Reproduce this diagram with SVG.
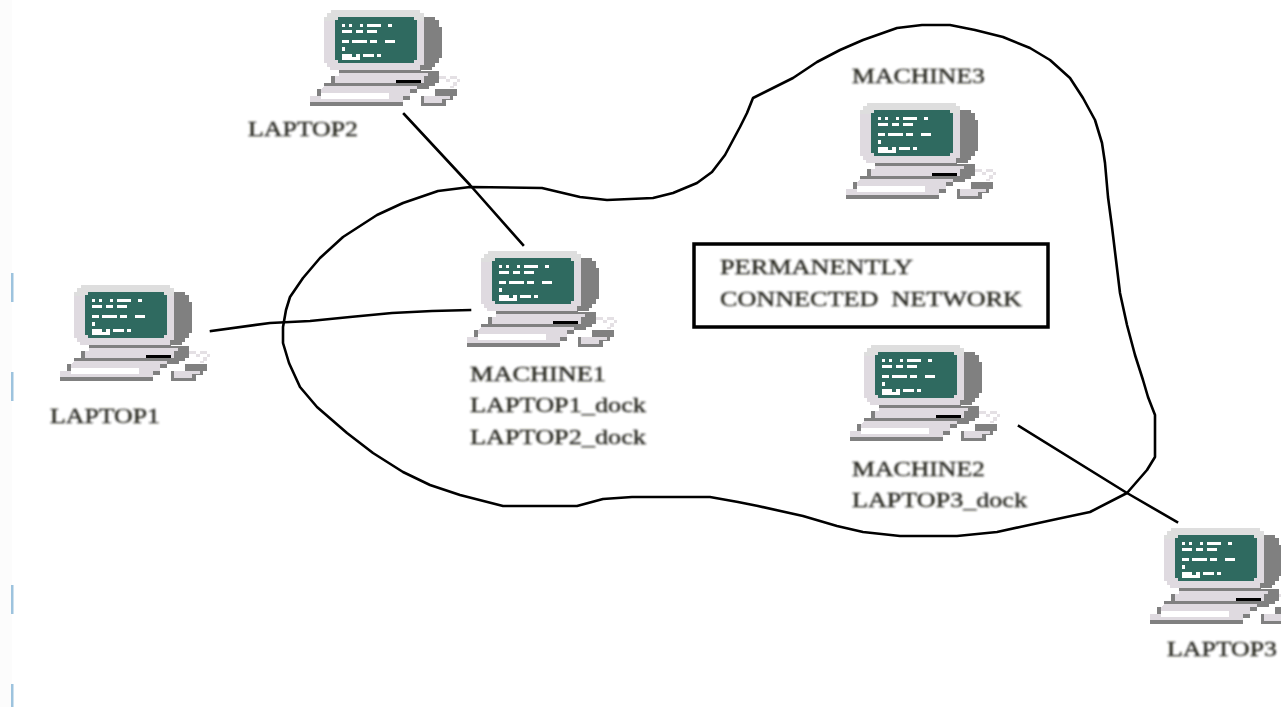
<svg xmlns="http://www.w3.org/2000/svg" width="1281" height="707" viewBox="0 0 1281 707">
<style>
.lb{font-family:"Liberation Serif","Times New Roman",serif;font-size:22px;fill:#25251f;stroke:#25251f;stroke-width:.35;filter:url(#soft);white-space:pre}
.cn{fill:none;stroke:#000;stroke-width:2.6;stroke-linejoin:round;stroke-linecap:square}
.tick{fill:#9dc3de}
</style>
<defs>
<filter id="soft" x="-5%" y="-30%" width="110%" height="160%"><feGaussianBlur stdDeviation="0.85"/></filter>
<g id="pc" shape-rendering="crispEdges">
<path fill="#808080" d="M134 22H145V25H149V32H152V63H149V68H145V72H142V75H130V70Z"/>
<path fill="#dfdae0" d="M41 15H130V18H134V70H130V75H40V72H37V68H34V22H37V18H41Z"/>
<path fill="#dedede" d="M41 15H130V18H134V26H34V22H37V18H41Z"/>
<path fill="#2f6a60" d="M48 22H124V25H127V65H124V68H48V65H45V25H48Z"/>
<g fill="#fff">
<rect x="52" y="29" width="3" height="3"/><rect x="59" y="29" width="3" height="3"/><rect x="70" y="29" width="3" height="3"/><rect x="77" y="29" width="14" height="3"/><rect x="98" y="29" width="4" height="3"/>
<rect x="52" y="35" width="10" height="3"/><rect x="66" y="35" width="7" height="3"/><rect x="77" y="35" width="10" height="3"/>
<rect x="52" y="45" width="7" height="3"/><rect x="62" y="45" width="15" height="3"/><rect x="80" y="45" width="7" height="3"/><rect x="95" y="45" width="10" height="3"/>
<rect x="52" y="52" width="3" height="4"/>
<path d="M52 59H62V62H66V59H70V65H52Z"/><rect x="73" y="59" width="11" height="3"/><rect x="87" y="59" width="4" height="3"/>
</g>
<rect x="49" y="75" width="82" height="3" fill="#808080"/>
<path fill="#808080" d="M130 76H149V88H145V91H139V94H127V88H130Z"/>
<path fill="#dfdae0" d="M49 78H138V81H134V88H45V81H49Z"/>
<rect x="41" y="81" width="4" height="8" fill="#808080"/>
<rect x="106" y="85" width="25" height="3" fill="#000"/>
<path fill="#808080" d="M34 88H134V91H127V98H120V105H113V111H20V101H27V94H34Z"/>
<path fill="#dfdae0" d="M34 91H127V94H120V101H113V107H20V101H31V94Z"/>
<rect x="31" y="98" width="68" height="6" fill="#fff"/>
<path fill="#808080" d="M145 94H167V101H163V105H156V111H131V101H145Z"/>
<path fill="#dfdae0" d="M134 101H160V104H152V108H134Z"/>
<g fill="#e4e0e4"><rect x="149" y="81" width="7" height="3"/><rect x="160" y="81" width="7" height="3"/><rect x="156" y="84" width="4" height="3"/><rect x="167" y="84" width="3" height="3"/><rect x="163" y="87" width="4" height="4"/><rect x="160" y="91" width="4" height="2"/></g>
</g>
</defs>
<rect width="1281" height="707" fill="#fff"/>
<rect width="12" height="707" fill="#fcfcfc"/>
<g id="ticks">
<rect class="tick" x="11" y="273" width="2.5" height="29"/><rect class="tick" x="11" y="372" width="2.5" height="29"/><rect class="tick" x="11" y="585" width="2.5" height="29"/><rect class="tick" x="11" y="684" width="2.5" height="23"/>
</g>
<g id="network">
<path class="cn" d="M753 98L773 88L793 78L817 62L840 50L863 40L897 28L922 25L950 25L975 30L1003 37L1030 48L1050 60L1070 78L1083 98L1095 120L1102 143L1105 163L1108 197L1112 227L1116 260L1120 293L1127 325L1135 355L1143 380L1148 397L1155 415L1155 457L1147 470L1127 493L1090 512L1057 519L1020 527L997 532L957 536L900 536L863 532L837 526L803 516L758 506L738 502L710 497L632 497L603 499L577 506L503 506L460 495L430 485L403 472L373 453L347 433L317 407L300 387L289 363L283 343L283 327L286 310L290 297L303 278L320 258L343 237L377 215L403 203L438 191L470 187L542 188L580 197L607 200L653 198L673 193L697 183L712 172L725 155L740 127L747 113Z"/>
</g>
<g id="connectors">
<path class="cn" d="M211 331L270 323L310 321L350 317L392 313L432 311L470 310"/>
<path class="cn" d="M404 114L470 185L523 245"/>
<path class="cn" d="M1019 426L1127 493L1177 522"/>
</g>
<g id="laptop1"><use href="#pc" x="40" y="270"/><text class="lb" x="50" y="423" textLength="110" lengthAdjust="spacingAndGlyphs">LAPTOP1</text></g>
<g id="laptop2"><use href="#pc" x="290" y="-5"/><text class="lb" x="248" y="136" textLength="110" lengthAdjust="spacingAndGlyphs">LAPTOP2</text></g>
<g id="machine1"><use href="#pc" x="447" y="236"/><text class="lb" x="470" y="381" textLength="136" lengthAdjust="spacingAndGlyphs">MACHINE1</text><text class="lb" x="470" y="412" textLength="176" lengthAdjust="spacingAndGlyphs">LAPTOP1_dock</text><text class="lb" x="470" y="444" textLength="176" lengthAdjust="spacingAndGlyphs">LAPTOP2_dock</text></g>
<g id="machine3"><use href="#pc" x="826" y="88"/><text class="lb" x="852" y="83" textLength="133" lengthAdjust="spacingAndGlyphs">MACHINE3</text></g>
<g id="machine2"><use href="#pc" x="830" y="330"/><text class="lb" x="852" y="476" textLength="133" lengthAdjust="spacingAndGlyphs">MACHINE2</text><text class="lb" x="852" y="507" textLength="175" lengthAdjust="spacingAndGlyphs">LAPTOP3_dock</text></g>
<g id="laptop3"><use href="#pc" x="1130" y="513"/><text class="lb" x="1167" y="656" textLength="110" lengthAdjust="spacingAndGlyphs">LAPTOP3</text></g>
<g id="legend"><rect x="694" y="244" width="354" height="83" fill="#fff" stroke="#000" stroke-width="3.5"/><text class="lb" x="720" y="274" textLength="193" lengthAdjust="spacingAndGlyphs">PERMANENTLY</text><text class="lb" x="720" y="306" textLength="302" lengthAdjust="spacingAndGlyphs">CONNECTED  NETWORK</text></g>
</svg>
